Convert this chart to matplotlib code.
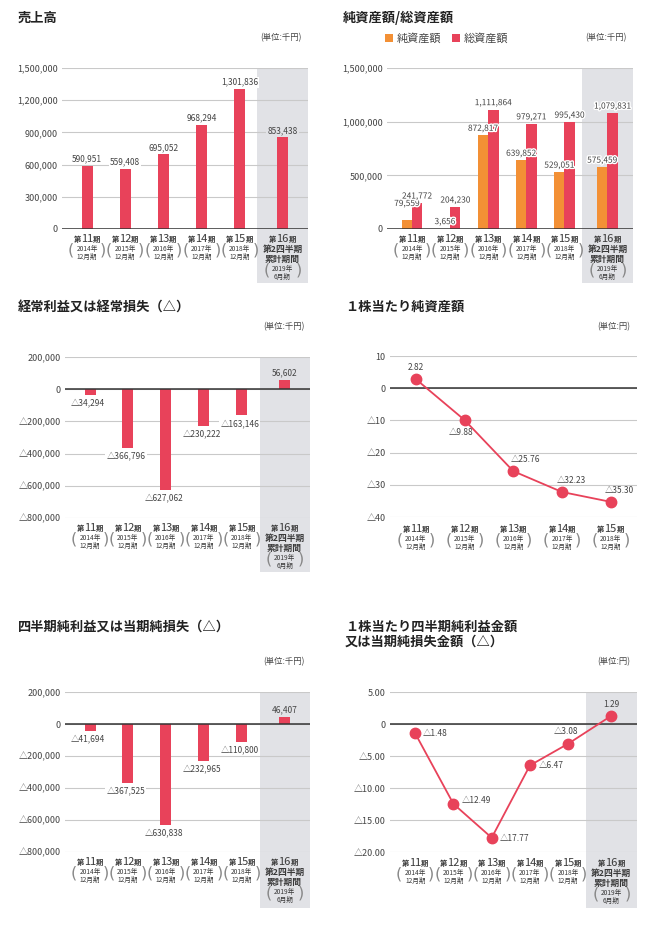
import matplotlib
matplotlib.use('Agg')
import matplotlib.pyplot as plt
import matplotlib.patheffects as pe
import matplotlib.transforms as mtransforms
from matplotlib.patches import Rectangle
import numpy as np

plt.rcParams['font.family'] = ['Noto Sans CJK JP', 'DejaVu Sans']

RED = '#E8425A'
ORANGE = '#F39035'
SHADE = '#E1E2E6'
GRID = '#C9C9C9'
TXT = '#444444'

# data (thousand yen / yen)
period_no = ['11', '12', '13', '14', '15', '16']
fy_years = ['2014年', '2015年', '2016年', '2017年', '2018年', '2019年']
fy_months = ['12月期', '12月期', '12月期', '12月期', '12月期', '6月期']

sales = [590951, 559408, 695052, 968294, 1301836, 853438]
net_assets = [79559, 3656, 872817, 639852, 529051, 575459]
total_assets = [241772, 204230, 1111864, 979271, 995430, 1079831]
ordinary = [-34294, -366796, -627062, -230222, -163146, 56602]
nav_per_share = [2.82, -9.88, -25.76, -32.23, -35.30]
net_income = [-41694, -367525, -630838, -232965, -110800, 46407]
eps = [-1.48, -12.49, -17.77, -6.47, -3.08, 1.29]

W, H = 655, 940
fig = plt.figure(figsize=(W / 100, H / 100), dpi=100)

pos6 = [0, 1, 2, 3, 4, 5.13]
xlim6 = (-0.66, 5.8)
shade_from = 4.47


def fmt(v, dec=0):
    s = format(abs(v), ',.%df' % dec)
    return ('△' + s) if v < 0 else s


def make_ax(l, t, r, b):
    return fig.add_axes([l / W, 1 - b / H, (r - l) / W, (b - t) / H])


def style(ax, lo, hi, step, dec=0):
    ax.set_ylim(lo, hi)
    ticks = np.arange(lo, hi + step / 2, step)
    ax.set_yticks(ticks)
    ax.set_yticklabels(['0' if abs(t) < 1e-9 else fmt(t, dec) for t in ticks])
    for s in ax.spines.values():
        s.set_visible(False)
    ax.tick_params(length=0, labelsize=6.5, colors=TXT, pad=3)
    ax.set_xticks([])
    ax.grid(axis='y', color=GRID, lw=0.8)
    ax.set_axisbelow(True)
    ax.axhline(0, color='#333333', lw=1.1, zorder=3)


def shade(ax, ext_px):
    h = ax.get_position().height * H
    tr = mtransforms.blended_transform_factory(ax.transData, ax.transAxes)
    ax.add_patch(Rectangle((shade_from, -ext_px / h), xlim6[1] - shade_from, 1 + ext_px / h,
                           transform=tr, color=SHADE, zorder=0, clip_on=False, lw=0))


def put(ax, x, s, dy, size, dx=0, color='#3a3a3a', ha='center', va='center', **kw):
    ax.annotate(s, xy=(x, 0), xycoords=('data', 'axes fraction'), xytext=(dx, dy),
                textcoords='offset pixels', ha=ha, va=va, fontsize=size,
                color=color, **kw)


def xlabels(ax, pos, n, top=-8):
    for i in range(n):
        x = pos[i]
        # "第" small, number big, "期" small, sharing a baseline
        put(ax, x, period_no[i], top - 5, 8, va='baseline')
        put(ax, x, '第', top - 5, 5.3, dx=-6, ha='right', va='baseline', fontweight='bold')
        put(ax, x, '期', top - 5, 5.3, dx=6, ha='left', va='baseline', fontweight='bold')
        if i == 5:
            put(ax, x, '第2四半期', top - 12, 6.3, fontweight='bold')
            put(ax, x, '累計期間', top - 22, 6.3, fontweight='bold')
            base = top - 32
        else:
            base = top - 12
        put(ax, x, fy_years[i], base, 4.8)
        put(ax, x, fy_months[i], base - 8, 4.8)
        put(ax, x, '(', base - 1, 11.5, dx=-16, family='DejaVu Sans', color='#888888')
        put(ax, x, ')', base - 1, 11.5, dx=16, family='DejaVu Sans', color='#888888')


def title(x, y, s):
    fig.text(x / W, 1 - y / H, s, fontsize=9.5, fontweight='bold', color='#222222',
             va='center', ha='left', linespacing=1.1)


def unit(xr, y, s):
    fig.text(xr / W, 1 - y / H, s, fontsize=6, color=TXT, va='center', ha='right')


# ---- 売上高
ax1 = make_ax(62, 68, 308, 229)
style(ax1, 0, 1500000, 300000)
ax1.set_xlim(*xlim6)
shade(ax1, 54)
ax1.bar(pos6, sales, width=0.29, color=RED, zorder=2)
for i, v in enumerate(sales):
    ax1.annotate(fmt(v), (pos6[i], v), xytext=(0, 7), textcoords='offset pixels',
                 ha='center', va='center', fontsize=6, color=TXT, zorder=4,
                 bbox=dict(facecolor=SHADE if i == 5 else 'white', edgecolor='none', pad=0.8))
xlabels(ax1, pos6, 6)
title(18, 18, '売上高')
unit(302, 38, '(単位:千円)')

# ---- 純資産額/総資産額
ax2 = make_ax(387, 68, 633, 229)
style(ax2, 0, 1500000, 500000)
ax2.set_xlim(*xlim6)
shade(ax2, 54)
bw = 0.27
p = np.array(pos6)
ax2.bar(p - bw / 2, net_assets, width=bw, color=ORANGE, zorder=2)
ax2.bar(p + bw / 2, total_assets, width=bw, color=RED, zorder=2)
halo = [pe.withStroke(linewidth=2, foreground='white')]
for i in range(6):
    dy = 17 if i == 0 else 7
    ax2.annotate(fmt(net_assets[i]), (p[i] - bw / 2, net_assets[i]), xytext=(0, dy),
                 textcoords='offset pixels', ha='center', va='center', fontsize=6,
                 color=TXT, zorder=4, path_effects=halo)
    ax2.annotate(fmt(total_assets[i]), (p[i] + bw / 2, total_assets[i]), xytext=(0, 7),
                 textcoords='offset pixels', ha='center', va='center', fontsize=6,
                 color=TXT, zorder=4, path_effects=halo)
xlabels(ax2, pos6, 6)
title(343, 18, '純資産額/総資産額')
fig.add_artist(Rectangle((385 / W, 1 - 42 / H), 8 / W, 8 / H, transform=fig.transFigure,
                         color=ORANGE, lw=0))
fig.text(397 / W, 1 - 38 / H, '純資産額', fontsize=8, color=TXT, va='center')
fig.add_artist(Rectangle((452 / W, 1 - 42 / H), 8 / W, 8 / H, transform=fig.transFigure,
                         color=RED, lw=0))
fig.text(464 / W, 1 - 38 / H, '総資産額', fontsize=8, color=TXT, va='center')
unit(627, 38, '(単位:千円)')


# ---- loss bar charts
def loss_panel(l, t, r, b, vals, ttl, ty, uy, ext):
    ax = make_ax(l, t, r, b)
    style(ax, -800000, 200000, 200000)
    ax.set_xlim(*xlim6)
    shade(ax, ext)
    ax.bar(pos6, vals, width=0.29, color=RED, zorder=2)
    for i, v in enumerate(vals):
        ax.annotate(fmt(v), (pos6[i], v), xytext=(-2 if v < 0 else 0, -8 if v < 0 else 7),
                    textcoords='offset pixels', ha='center', va='center', fontsize=6,
                    color=TXT, zorder=4,
                    bbox=dict(facecolor=SHADE if i == 5 else 'white', edgecolor='none', pad=0.8))
    xlabels(ax, pos6, 6)
    title(18, ty, ttl)
    unit(305, uy, '(単位:千円)')
    return ax


loss_panel(65, 357, 310, 518, ordinary, '経常利益又は経常損失（△）', 307, 327, 54)
loss_panel(65, 692, 310, 852, net_income, '四半期純利益又は当期純損失（△）', 627, 662, 56)

# ---- 1株当たり純資産額
ax4 = make_ax(390, 356, 637, 517)
style(ax4, -40, 10, 10)
pos5 = [0, 1, 2, 3, 4]
ax4.set_xlim(-0.53, 4.54)
ax4.plot(pos5, nav_per_share, color=RED, lw=1.3, marker='o', ms=7.5, zorder=4)
offs4 = [(0, 12), (-3, -12), (12, 12), (9, 11), (9, 11)]
for i, v in enumerate(nav_per_share):
    ax4.annotate(fmt(v, 2), (pos5[i], v), xytext=offs4[i], textcoords='offset pixels',
                 ha='center', va='center', fontsize=6, color=TXT, zorder=5)
xlabels(ax4, pos5, 5, top=-10)
title(345, 307, '１株当たり純資産額')
unit(630, 327, '(単位:円)')

# ---- 1株当たり四半期純利益金額
ax6 = make_ax(390, 692, 637, 852)
style(ax6, -20, 5, 5, dec=2)
ax6.set_xlim(*xlim6)
shade(ax6, 56)
ax6.plot(pos6, eps, color=RED, lw=1.3, marker='o', ms=7.5, zorder=4)
offs6 = [(8, 0, 'left'), (8, 3, 'left'), (8, -1, 'left'), (9, 0, 'left'),
         (-2, 12, 'center'), (0, 11, 'center')]
for i, v in enumerate(eps):
    dx, dy, ha = offs6[i]
    ax6.annotate(fmt(v, 2), (pos6[i], v), xytext=(dx, dy), textcoords='offset pixels',
                 ha=ha, va='center', fontsize=6, color=TXT, zorder=5)
xlabels(ax6, pos6, 6, top=-9)
title(345, 634, '１株当たり四半期純利益金額\n又は当期純損失金額（△）')
unit(630, 662, '(単位:円)')

fig.savefig('out.png', dpi=100, facecolor='white')
